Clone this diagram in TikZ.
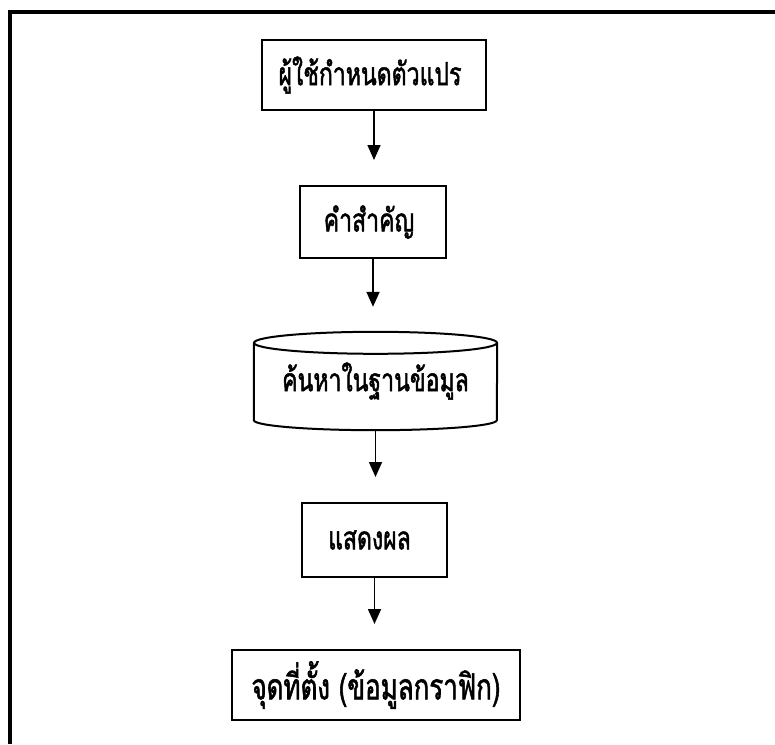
\documentclass[tikz,border=0pt]{standalone}
\usepackage{fontspec}
\newfontfamily\thaifont[Script=Thai,FakeStretch=0.72,FakeBold=1.5]{Loma}
\usetikzlibrary{arrows.meta,calc}

\begin{document}
\begin{tikzpicture}[x=1pt,y=-1pt,
  thaitext/.style={font=\thaifont\fontsize{32}{36}\selectfont},
  procbox/.style={draw, line width=2pt, inner sep=0pt, thaitext},
  flow/.style={line width=1.6pt, shorten >=25pt, -{Triangle[width=13pt,length=15pt]}},
  frameline/.style={line width=4pt}]
  \useasboundingbox (0,0) rectangle (775,744);

  % outer frame (top and left edges)
  \draw[frameline] (10,744) -- (10,11.5) -- (775,11.5);

  % process steps
  \node[procbox, minimum width=224pt, minimum height=70pt] (b1) at (374,75) {\raisebox{-3pt}{ผู้ใช้กำหนดตัวแปร}\hspace*{8pt}};
  \node[procbox, minimum width=146pt, minimum height=72pt] (b2) at (373,222) {\raisebox{-3pt}{คำสำคัญ}\hspace*{8pt}};
  \node[inner sep=0pt, minimum width=243pt, minimum height=98pt, thaitext] (db) at (375.5,381) {\raisebox{-3pt}{ค้นหาในฐานข้อมูล}};
  \node[procbox, minimum width=145pt, minimum height=74pt] (b4) at (374.5,540) {\raisebox{-3pt}{แสดงผล}\hspace*{10pt}};
  \node[procbox, minimum width=288pt, minimum height=70pt, font=\thaifont\fontsize{36}{40}\selectfont] (b5) at (376,685) {\raisebox{-2pt}{จุดที่ตั้ง (ข้อมูลกราฟิก)}};

  % database drum around the search step
  \draw[line width=2pt]
    ($(db.north)+(0,11)$) ellipse [x radius=121.5pt, y radius=11pt]
    ($(db.north west)+(0,11)$) -- ($(db.south west)+(0,-10)$)
    arc [start angle=180, end angle=360, x radius=121.5pt, y radius=10pt]
    -- ($(db.north east)+(0,11)$);

  % connectors
  \draw[flow] (b1.south) -- (b1.south |- b2.north);
  \draw[flow] (b2.south) -- (b2.south |- db.north);
  \draw[flow] (db.south) -- (db.south |- b4.north);
  \draw[flow] (b4.south) -- (b4.south |- b5.north);
\end{tikzpicture}
\end{document}
